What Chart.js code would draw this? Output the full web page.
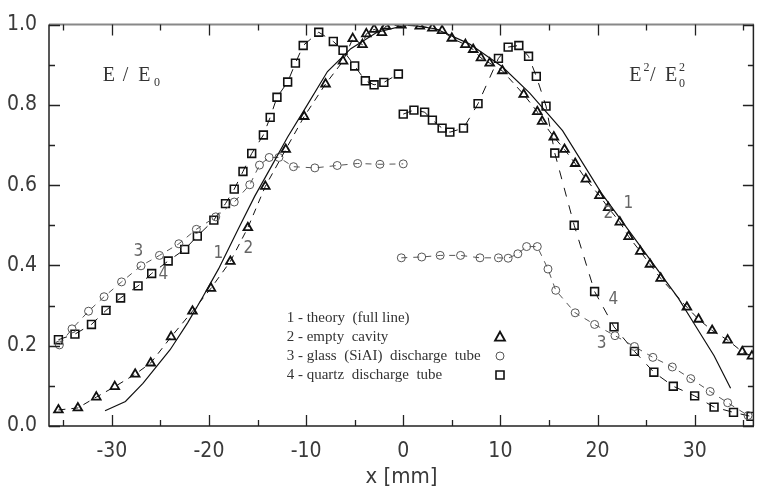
<!DOCTYPE html>
<html>

<head>
    <title>Field distribution</title>
    <script src="https://cdn.jsdelivr.net/npm/chart.js"></script>
    <style>
        body { margin: 0; background: #fff; }
    </style>
</head>

<body>
    <canvas id="fieldChart" width="761" height="486"></canvas>

    <script>
        // 1 - theory (full line)
        const theoryX = [-30.7, -28.6, -26.8, -24.0, -22.2, -20.7, -19.0, -17.0, -15.3, -13.5, -11.9, -10.0, -7.8, -5.4, -2.7, 0.5, 3.4, 6.8, 10.2, 13.0, 16.4, 20.4, 24.0, 28.3, 30.0, 32.0, 33.7];
        const theoryY = [0.038, 0.061, 0.106, 0.19, 0.257, 0.319, 0.392, 0.490, 0.572, 0.650, 0.720, 0.795, 0.883, 0.940, 0.981, 1.0, 0.989, 0.952, 0.895, 0.830, 0.736, 0.580, 0.461, 0.319, 0.253, 0.175, 0.094];

        // 2 - empty cavity
        const emptyX = [-35.5, -33.5, -31.6, -29.7, -27.6, -26.0, -23.9, -21.7, -19.8, -17.8, -16.0, -14.2, -12.1, -10.2, -8.0, -6.2, -5.2, -4.2, -3.8, -3.0, -2.2, -1.8, -0.2, 1.7, 3.0, 4.0, 5.0, 6.4, 7.2, 8.0, 8.9, 10.2, 12.4, 13.8, 14.3, 15.5, 16.6, 17.7, 18.8, 20.2, 21.1, 22.3, 23.2, 24.4, 25.4, 26.5, 29.2, 30.4, 31.8, 33.4, 34.9, 35.9];
        const emptyY = [0.040, 0.045, 0.072, 0.098, 0.129, 0.157, 0.222, 0.286, 0.343, 0.410, 0.494, 0.597, 0.689, 0.771, 0.852, 0.909, 0.965, 0.950, 0.977, 0.988, 0.980, 0.996, 0.999, 0.996, 0.991, 0.985, 0.966, 0.950, 0.938, 0.917, 0.904, 0.885, 0.826, 0.783, 0.759, 0.720, 0.689, 0.654, 0.615, 0.574, 0.544, 0.508, 0.472, 0.435, 0.403, 0.368, 0.296, 0.266, 0.238, 0.214, 0.185, 0.174];

        // 3 - glass (SiAl) discharge tube, E / E0 branch and E^2 / E0^2 branch
        const glassX1 = [-35.4, -34.1, -32.4, -30.8, -29.0, -27.0, -25.1, -23.1, -21.3, -19.3, -17.4, -15.8, -14.8, -13.8, -12.8, -11.3, -9.1, -6.8, -4.7, -2.4, 0.0];
        const glassY1 = [0.202, 0.242, 0.286, 0.322, 0.359, 0.399, 0.425, 0.454, 0.490, 0.521, 0.558, 0.601, 0.650, 0.669, 0.669, 0.646, 0.643, 0.649, 0.654, 0.652, 0.653];
        const glassX2 = [-0.2, 1.9, 3.8, 5.9, 7.9, 9.8, 10.8, 11.8, 12.7, 13.8, 14.9, 15.7, 17.7, 19.7, 21.8, 23.8, 25.7, 27.7, 29.6, 31.6, 33.4, 35.5];
        const glassY2 = [0.419, 0.421, 0.425, 0.425, 0.419, 0.419, 0.418, 0.429, 0.447, 0.447, 0.391, 0.338, 0.282, 0.253, 0.225, 0.198, 0.171, 0.147, 0.118, 0.086, 0.058, 0.026];

        // 4 - quartz discharge tube
        const quartzX1 = [-35.5, -33.8, -32.1, -30.6, -29.1, -27.3, -25.9, -24.2, -22.5, -21.2, -19.5, -18.3, -17.4, -16.5, -15.6, -14.4, -13.7, -13.0, -11.9, -11.1, -10.3, -8.7, -7.2, -6.2, -5.0, -3.9, -3.0, -2.0, -0.5];
        const quartzY1 = [0.215, 0.229, 0.253, 0.288, 0.319, 0.349, 0.380, 0.411, 0.440, 0.473, 0.513, 0.554, 0.590, 0.634, 0.679, 0.725, 0.769, 0.819, 0.857, 0.904, 0.948, 0.981, 0.958, 0.936, 0.897, 0.860, 0.850, 0.856, 0.877];
        const quartzX2 = [0.0, 1.1, 2.2, 3.0, 4.0, 4.8, 6.2, 7.7, 9.8, 10.8, 11.9, 12.9, 13.7, 14.7, 15.6, 17.6, 19.7, 21.7, 23.8, 25.8, 27.8, 30.0, 32.0, 34.0, 35.8];
        const quartzY2 = [0.777, 0.787, 0.782, 0.762, 0.742, 0.732, 0.742, 0.803, 0.916, 0.944, 0.948, 0.921, 0.871, 0.797, 0.680, 0.500, 0.335, 0.247, 0.186, 0.134, 0.099, 0.075, 0.047, 0.034, 0.024];

        const xTicks = [-30, -20, -10, 0, 10, 20, 30];
        const yTicks = [0.0, 0.2, 0.4, 0.6, 0.8, 1.0];

        const legendLines = [
            '1 - theory  (full line)',
            '2 - empty  cavity',
            '3 - glass  (SiAI)  discharge  tube',
            '4 - quartz  discharge  tube'
        ];

        const numFont = '17px "Liberation Sans Narrow", "DejaVu Sans Condensed", "Liberation Sans", sans-serif';
        const axisFamily = '"Liberation Sans Narrow", "DejaVu Sans Condensed", "Liberation Sans", sans-serif';
        const serif = '"Liberation Serif", "DejaVu Serif", serif';

        function pts(xs, ys) {
            return xs.map((x, i) => ({ x: x, y: ys[i] }));
        }

        // two branches joined by a null point so no connecting segment is drawn
        function branches(x1, y1, x2, y2) {
            return pts(x1, y1).concat([{ x: 0, y: null }], pts(x2, y2));
        }

        function marker(ctx, style, x, y) {
            ctx.beginPath();
            if (style === 'triangle') {
                ctx.moveTo(x, y - 5.5);
                ctx.lineTo(x + 5, y + 3.5);
                ctx.lineTo(x - 5, y + 3.5);
                ctx.closePath();
                ctx.lineWidth = 1.8;
            } else if (style === 'circle') {
                ctx.arc(x, y, 4, 0, Math.PI * 2);
                ctx.lineWidth = 1;
            } else {
                ctx.rect(x - 4, y - 4, 8, 8);
                ctx.lineWidth = 1.6;
            }
            ctx.stroke();
        }

        // frame with inward ticks on all sides, plus text annotations
        const decorations = {
            id: 'decorations',
            afterDraw(chart) {
                const ctx = chart.ctx;
                const { left, right, top, bottom } = chart.chartArea;
                const xs = chart.scales.x, ys = chart.scales.y;
                ctx.save();

                ctx.lineCap = 'butt';
                ctx.strokeStyle = '#888';
                ctx.lineWidth = 2;
                ctx.beginPath();
                ctx.moveTo(left, top); ctx.lineTo(right, top);
                ctx.stroke();

                ctx.strokeStyle = '#222';
                ctx.lineWidth = 1.5;
                ctx.beginPath();
                ctx.moveTo(left, top); ctx.lineTo(left, bottom); ctx.lineTo(right, bottom);
                ctx.moveTo(right - 0.5, top); ctx.lineTo(right - 0.5, bottom);
                ctx.stroke();

                ctx.lineWidth = 1.3;
                ctx.beginPath();
                for (let v = -35; v <= 35; v += 5) {
                    const px = Math.round(xs.getPixelForValue(v)) + 0.5;
                    const len = v % 10 === 0 ? 11 : 6;
                    ctx.moveTo(px, bottom); ctx.lineTo(px, bottom - len);
                    ctx.moveTo(px, top); ctx.lineTo(px, top + len);
                }
                for (let i = 0; i <= 10; i++) {
                    const py = Math.round(ys.getPixelForValue(i / 10)) + 0.5;
                    const len = i % 2 === 0 ? 11 : 6;
                    ctx.moveTo(left, py); ctx.lineTo(left + len, py);
                    ctx.moveTo(right, py); ctx.lineTo(right - len, py);
                }
                ctx.stroke();

                // field ratio captions
                ctx.fillStyle = '#333';
                ctx.textBaseline = 'alphabetic';
                ctx.textAlign = 'left';
                ctx.font = '20px ' + serif;
                ctx.fillText('E', 102.7, 80.7);
                ctx.fillText('/', 122.7, 80.7);
                ctx.fillText('E', 138.3, 80.7);
                ctx.fillText('E', 629.3, 80.7);
                ctx.fillText('/', 650, 80.7);
                ctx.fillText('E', 665, 80.7);
                ctx.font = '12px ' + serif;
                ctx.fillText('0', 154, 86);
                ctx.fillText('2', 643.5, 71);
                ctx.fillText('2', 679, 71);
                ctx.fillText('0', 679, 86.5);

                // legend
                ctx.font = '15px ' + serif;
                ctx.textBaseline = 'middle';
                const rows = [317.7, 336.7, 356, 375];
                legendLines.forEach((t, i) => ctx.fillText(t, 286.7, rows[i]));
                ctx.strokeStyle = '#111';
                marker(ctx, 'triangle', 500, rows[1] + 0.5);
                ctx.strokeStyle = '#555';
                marker(ctx, 'circle', 500, rows[2]);
                ctx.strokeStyle = '#111';
                marker(ctx, 'rect', 500, rows[3]);

                // curve numbers
                ctx.font = numFont;
                ctx.fillStyle = '#666';
                ctx.textAlign = 'center';
                [['3', 138.3, 251.7], ['4', 163.3, 275], ['1', 218.3, 253.3], ['2', 248.3, 248.3],
                 ['1', 628.3, 204], ['2', 608.3, 214], ['4', 613.3, 300], ['3', 601.7, 343.3]]
                    .forEach(([t, x, y]) => ctx.fillText(t, x, y));

                ctx.restore();
            }
        };

        const ctx = document.getElementById('fieldChart').getContext('2d');

        const data = {
            datasets: [
                {
                    label: 'theory',
                    data: pts(theoryX, theoryY),
                    borderColor: '#111',
                    borderWidth: 1.2,
                    pointRadius: 0
                },
                {
                    label: 'empty cavity',
                    data: pts(emptyX, emptyY),
                    borderColor: '#111',
                    borderWidth: 1,
                    borderDash: [7, 6],
                    pointStyle: 'triangle',
                    pointRadius: 5,
                    pointBorderWidth: 1.8,
                    pointBackgroundColor: 'rgba(0,0,0,0)',
                    pointBorderColor: '#111'
                },
                {
                    label: 'glass discharge tube',
                    data: branches(glassX1, glassY1, glassX2, glassY2),
                    borderColor: '#555',
                    borderWidth: 1,
                    borderDash: [6, 6],
                    pointStyle: 'circle',
                    pointRadius: 4,
                    pointBorderWidth: 1,
                    pointBackgroundColor: 'rgba(0,0,0,0)',
                    pointBorderColor: '#555'
                },
                {
                    label: 'quartz discharge tube',
                    data: branches(quartzX1, quartzY1, quartzX2, quartzY2),
                    borderColor: '#111',
                    borderWidth: 1,
                    borderDash: [9, 9],
                    pointStyle: 'rect',
                    pointRadius: 5.5,
                    pointBorderWidth: 1.6,
                    pointBackgroundColor: 'rgba(0,0,0,0)',
                    pointBorderColor: '#111'
                }
            ]
        };

        const options = {
            responsive: false,
            animation: false,
            layout: { padding: { top: 19, right: 0, left: 0, bottom: 0 } },
            plugins: {
                legend: { display: false },
                tooltip: { enabled: false }
            },
            elements: { line: { tension: 0 } },
            scales: {
                x: {
                    type: 'linear',
                    min: -36.47,
                    max: 36.1,
                    afterBuildTicks: (scale) => { scale.ticks = xTicks.map(v => ({ value: v })); },
                    afterFit: (scale) => { scale.height = 60; },
                    grid: { display: false, drawTicks: false },
                    border: { display: false },
                    ticks: {
                        padding: 13,
                        maxRotation: 0,
                        color: '#3a3a3a',
                        font: { family: axisFamily, size: 21 }
                    },
                    title: {
                        display: true,
                        text: 'x [mm]',
                        color: '#3a3a3a',
                        padding: { top: 0, bottom: -4 },
                        font: { family: axisFamily, size: 22 }
                    }
                },
                y: {
                    min: 0,
                    max: 1.0,
                    afterBuildTicks: (scale) => { scale.ticks = yTicks.map(v => ({ value: v })); },
                    afterFit: (scale) => { scale.width = 49; },
                    grid: { display: false, drawTicks: false },
                    border: { display: false },
                    ticks: {
                        padding: 12,
                        color: '#3a3a3a',
                        font: { family: axisFamily, size: 21 },
                        callback: (v) => v.toFixed(1)
                    }
                }
            }
        };

        new Chart(ctx, { type: 'line', data, options, plugins: [decorations] });
    </script>

</body>

</html>
